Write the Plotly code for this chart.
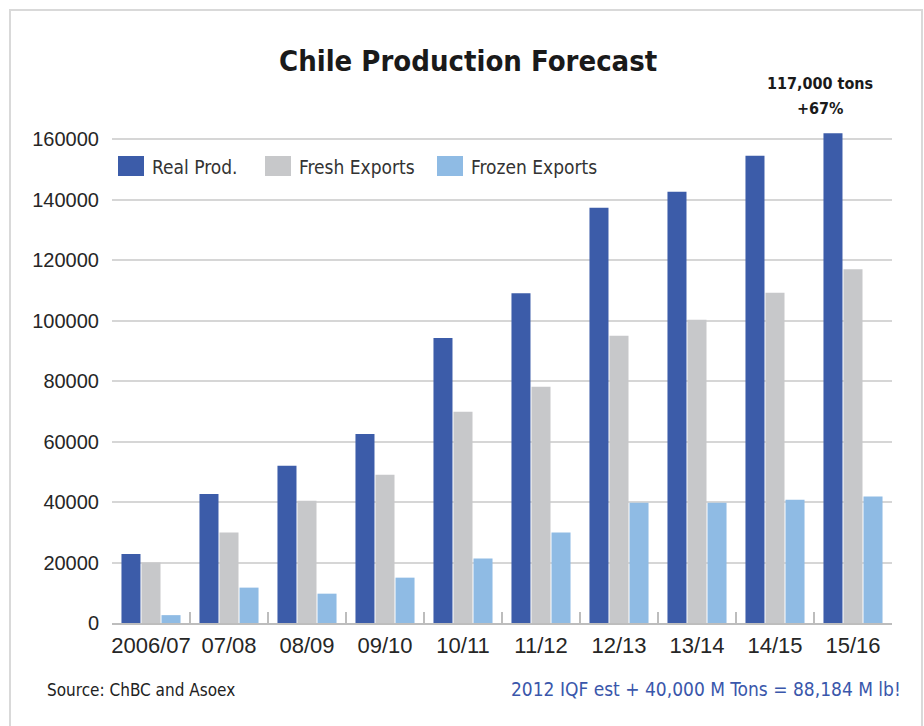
import plotly.graph_objects as go

# Season labels and tonnage per series
seasons = ["2006/07", "07/08", "08/09", "09/10", "10/11",
           "11/12", "12/13", "13/14", "14/15", "15/16"]
real_prod = [22800, 42700, 52000, 62500, 94300, 109100, 137300, 142600, 154500, 162000]
fresh_exports = [20000, 29900, 40400, 49000, 69900, 78100, 95000, 100300, 109200, 117000]
frozen_exports = [2600, 11700, 9700, 15000, 21300, 29900, 39800, 39800, 40800, 41800]

series_names = ["Real Prod.", "Fresh Exports", "Frozen Exports"]
series_colors = ["#3c5ca9", "#c7c8ca", "#8fbbe4"]
y_ticks = [0, 20000, 40000, 60000, 80000, 100000, 120000, 140000, 160000]

title_text = "Chile Production Forecast"
callout_lines = ["117,000 tons", "+67%"]
source_text = "Source: ChBC and Asoex"
note_text = "2012 IQF est + 40,000 M Tons = 88,184 M lb!"

W, H = 924, 726
L, R, T, B = 112, 32, 109, 103
PW, PH = W - L - R, H - T - B

NARROW = "Liberation Sans Narrow, Arial Narrow, DejaVu Sans Condensed, sans-serif"
REG = "Liberation Sans, Arial, sans-serif"


def px(x):
    return (x - L) / PW


def py(y):
    return (H - B - y) / PH


fig = go.Figure()
for name, vals, col in zip(series_names, [real_prod, fresh_exports, frozen_exports], series_colors):
    fig.add_trace(go.Bar(x=seasons, y=vals, name=name, marker_color=col,
                         marker_line_width=0, showlegend=False))

shapes = []
annotations = []

# legend drawn as swatches + labels
legend_x = [118, 265, 437]
for name, col, x0 in zip(series_names, series_colors, legend_x):
    shapes.append(dict(type="rect", xref="paper", yref="paper",
                       x0=px(x0), x1=px(x0 + 26), y0=py(176), y1=py(156),
                       fillcolor=col, line_width=0))
    annotations.append(dict(xref="paper", yref="paper", x=px(x0 + 32), y=py(167),
                            text=name, showarrow=False, xanchor="left", yanchor="middle",
                            font=dict(family=NARROW, size=19, color="#333333")))

# outer frame
shapes.append(dict(type="rect", xref="paper", yref="paper",
                   x0=px(10), x1=px(922), y0=py(760), y1=py(10),
                   line=dict(color="#d9d9d9", width=2), fillcolor="rgba(0,0,0,0)",
                   layer="below"))

annotations += [
    dict(xref="paper", yref="paper", x=px(468), y=py(61), text="<b>" + title_text + "</b>",
         showarrow=False, xanchor="center", yanchor="middle",
         font=dict(family=NARROW, size=29, color="#1a1a1a")),
    dict(xref="paper", yref="paper", x=px(820), y=py(84), text="<b>" + callout_lines[0] + "</b>",
         showarrow=False, xanchor="center", yanchor="middle",
         font=dict(family=NARROW, size=16, color="#1a1a1a")),
    dict(xref="paper", yref="paper", x=px(820), y=py(108), text="<b>" + callout_lines[1] + "</b>",
         showarrow=False, xanchor="center", yanchor="middle",
         font=dict(family=NARROW, size=16, color="#1a1a1a")),
    dict(xref="paper", yref="paper", x=px(45), y=py(690), text=source_text,
         showarrow=False, xanchor="left", yanchor="middle",
         font=dict(family=NARROW, size=17, color="#222222")),
    dict(xref="paper", yref="paper", x=px(903), y=py(689), text=note_text,
         showarrow=False, xanchor="right", yanchor="middle",
         font=dict(family=NARROW, size=19, color="#3a57ab")),
]

fig.update_layout(
    width=W, height=H,
    margin=dict(l=L, r=R, t=T, b=B, pad=0),
    paper_bgcolor="white", plot_bgcolor="white",
    barmode="group", bargap=0.23, bargroupgap=0.05,
    shapes=shapes, annotations=annotations,
    xaxis=dict(
        type="category", showgrid=False, showline=True, linecolor="#bdbdbd", linewidth=2,
        ticks="inside", tickson="boundaries", ticklen=11, tickcolor="#bdbdbd", tickwidth=1.5,
        tickfont=dict(family=REG, size=22, color="#262626"),
        tickangle=0, ticklabelstandoff=2,
    ),
    yaxis=dict(
        range=[0, 170000], tickvals=y_ticks, tickformat="d",
        showgrid=True, gridcolor="#d6d6d6", gridwidth=2,
        zeroline=False, showline=False,
        tickfont=dict(family=REG, size=20, color="#262626"),
        ticks="", ticklabelstandoff=12,
    ),
)

fig.write_html("out.html")
